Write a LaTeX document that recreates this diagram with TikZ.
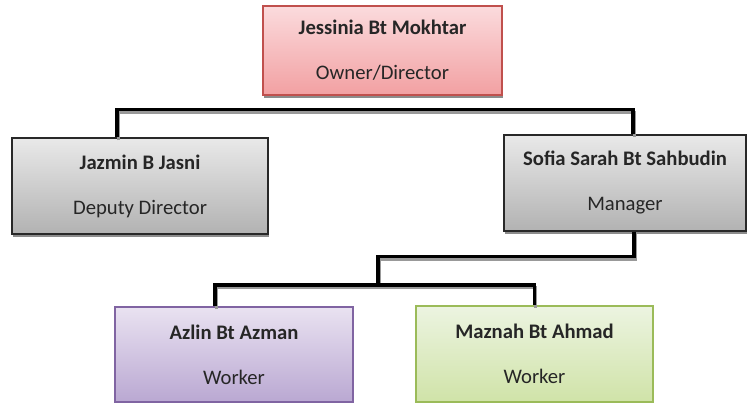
\documentclass[tikz,border=0pt]{standalone}
\usepackage{fontspec}
\setmainfont{Carlito}
\usetikzlibrary{shadows}

\definecolor{ownertop}{RGB}{251,219,221}
\definecolor{ownerbot}{RGB}{242,160,162}
\definecolor{ownerline}{RGB}{192,80,77}
\definecolor{greytop}{RGB}{233,233,233}
\definecolor{greybot}{RGB}{178,178,178}
\definecolor{greyline}{RGB}{40,40,40}
\definecolor{lilactop}{RGB}{233,226,241}
\definecolor{lilacbot}{RGB}{186,168,210}
\definecolor{lilacline}{RGB}{128,100,162}
\definecolor{limetop}{RGB}{236,244,225}
\definecolor{limebot}{RGB}{208,227,168}
\definecolor{limeline}{RGB}{155,187,89}

\begin{document}
\begin{tikzpicture}[x=0.75pt, y=-0.75pt,
                    every node/.style={font=\fontsize{15.5}{33.75}\selectfont, align=center, text=black!85},
                    person/.style={rectangle, draw, line width=0.8pt, inner sep=0pt,
                                   drop shadow={shadow xshift=0.6pt, shadow yshift=-2.2pt, fill=black!45, opacity=1}},
                    link/.style={line width=2.3pt,
                                 preaction={draw=black!40, line width=2.3pt, transform canvas={xshift=1pt, yshift=-2.2pt}}}
]
\useasboundingbox (0,0) rectangle (747,403);

\node [person, draw=ownerline, top color=ownertop, bottom color=ownerbot,
       minimum width=179.25pt, minimum height=66.75pt] at (382.5,50.5) (owner)
      {\textbf{Jessinia Bt Mokhtar}\\Owner/Director};
\node [person, draw=greyline, top color=greytop, bottom color=greybot,
       minimum width=192pt, minimum height=72pt] at (140,186) (deputy)
      {\textbf{Jazmin B Jasni}\\Deputy Director};
\node [person, draw=greyline, top color=greytop, bottom color=greybot,
       minimum width=181.5pt, minimum height=72pt] at (625,183) (manager)
      {\textbf{Sofia Sarah Bt Sahbudin}\\Manager};
\node [person, draw=lilacline, top color=lilactop, bottom color=lilacbot,
       minimum width=178.5pt, minimum height=71.25pt] at (234,354.5) (worker1)
      {\textbf{Azlin Bt Azman}\\Worker};
\node [person, draw=limeline, top color=limetop, bottom color=limebot,
       minimum width=177.75pt, minimum height=72pt] at (534.5,354) (worker2)
      {\textbf{Maznah Bt Ahmad}\\Worker};
%
\coordinate (split) at (378,285);
%
\draw [link] ([xshift=-17.25pt]deputy.north) -- ++(0,-28) -| ([xshift=6pt]manager.north);
\draw [link] ([xshift=6.75pt]manager.south) -- ++(0,25) -| (split);
\draw [link] ([xshift=-14.25pt]worker1.north) |- (split) -| (worker2.north);
\end{tikzpicture}
\end{document}
